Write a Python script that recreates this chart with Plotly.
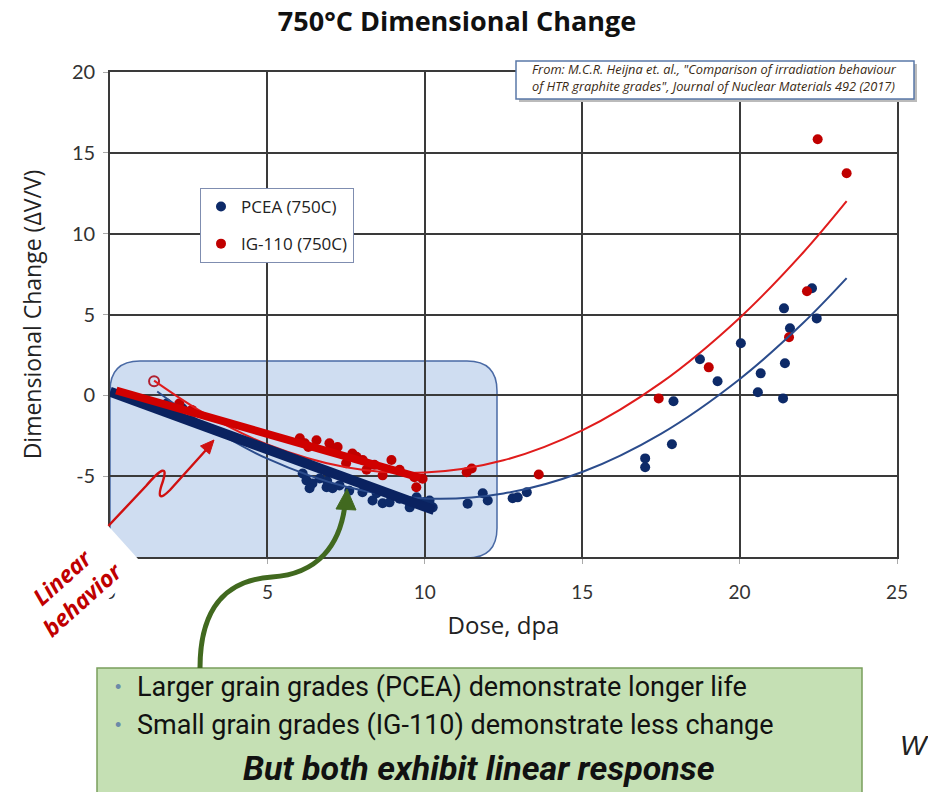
import plotly.graph_objects as go

# ---------------- data ----------------
pcea_dose = [1.8, 2.3, 6.12, 6.24, 6.43, 6.66, 6.34, 6.88, 7.07, 7.29, 6.9, 7.6, 8.02, 8.34,
             8.47, 8.66, 8.88, 9.2, 9.52, 9.74, 10.15, 10.25, 10.0, 11.36, 11.84, 12.0, 12.79,
             12.95, 13.24, 17.0, 17.0, 17.85, 17.9, 18.74, 19.3, 20.04, 20.67, 20.58, 21.38,
             21.44, 21.41, 21.6, 22.45, 22.3]
pcea_dv = [-0.5, -0.8, -4.83, -5.26, -5.45, -5.14, -5.75, -5.69, -5.75, -5.57, -5.3, -5.9, -6.0,
           -6.5, -6.06, -6.68, -6.62, -6.4, -6.93, -6.31, -6.5, -6.93, -6.6, -6.7, -6.06, -6.5,
           -6.37, -6.31, -6.0, -3.9, -4.45, -3.03, -0.37, 2.23, 0.87, 3.22, 1.36, 0.19, -0.19,
           1.98, 5.38, 4.15, 4.76, 6.62]

ig_dose = [2.2, 2.6, 6.03, 6.19, 6.3, 6.56, 6.97, 7.0, 7.23, 7.5, 7.7, 7.83, 8.03, 8.15, 8.4,
           8.66, 8.94, 9.2, 9.67, 9.73, 9.93, 11.33, 11.49, 13.62, 17.43, 19.02, 21.57, 22.14,
           22.48, 23.4]
ig_dv = [-0.5, -0.9, -2.66, -2.97, -3.2, -2.78, -2.97, -3.4, -3.2, -4.2, -3.6, -3.8, -4.0, -4.6,
         -4.3, -4.95, -4.0, -4.6, -5.07, -5.69, -5.16, -4.76, -4.53, -4.9, -0.19, 1.73, 3.59,
         6.44, 15.84, 13.74]

ig_open_dose = [1.4]
ig_open_dv = [0.87]

# trend curves
pcea_fit_dose = [1.5, 3, 5, 7.5, 10, 12.5, 15, 17.5, 20, 22, 23.4]
pcea_fit_dv = [0.24, -1.79, -3.92, -5.66, -6.38, -6.07, -4.74, -2.38, 1.0, 4.44, 7.25]
ig_fit_dose = [1.4, 3, 5, 7.5, 10, 12.5, 15, 17.5, 20, 22, 23.4]
ig_fit_dv = [0.91, -1.12, -3.04, -4.45, -4.78, -4.02, -2.17, 0.77, 4.79, 8.79, 12.01]

# linear-behaviour lines
pcea_lin_dose = [0.0, 10.3]
pcea_lin_dv = [0.22, -7.1]
ig_lin_dose = [0.2, 9.85]
ig_lin_dv = [0.3, -5.1]

x_ticks = [0, 5, 10, 15, 20, 25]
x_ticktext = ["0", "5", "10", "15", "20", "25"]
y_ticks = [-5, 0, 5, 10, 15, 20]
y_ticktext = ["-5", "0", "5", "10", "15", "20"]

BLUE = "#0d2a68"
RED = "#c00000"
FONT = "Lato"
FONT2 = "Open Sans"

# ---------------- figure ----------------
W, H = 928, 792
ML, MR, MT, MB = 110, 31, 72, 235
PW, PH = W - ML - MR, H - MT - MB


def pp(px, py):
    """pixel -> paper coords"""
    return (px - ML) / PW, (H - MB - py) / PH


def path(cmds):
    out = []
    for c in cmds:
        if isinstance(c, str):
            out.append(c)
        else:
            x, y = pp(*c)
            out.append(f"{x:.5f},{y:.5f}")
    return " ".join(out)


fig = go.Figure()

fig.add_trace(go.Scatter(x=pcea_dose, y=pcea_dv, mode="markers", name="PCEA (750C)",
                         marker=dict(color=BLUE, size=10), legendgroup="a"))
fig.add_trace(go.Scatter(x=ig_dose, y=ig_dv, mode="markers", name="IG-110 (750C)",
                         marker=dict(color=RED, size=10), legendgroup="b"))
fig.add_trace(go.Scatter(x=ig_open_dose, y=ig_open_dv, mode="markers", showlegend=False,
                         marker=dict(symbol="circle-open", color="#b02030", size=10,
                                     line=dict(width=2))))
fig.add_trace(go.Scatter(x=pcea_fit_dose, y=pcea_fit_dv, mode="lines", showlegend=False,
                         line=dict(color="#2b4c8c", width=2, shape="spline")))
fig.add_trace(go.Scatter(x=ig_fit_dose, y=ig_fit_dv, mode="lines", showlegend=False,
                         line=dict(color="#e01c1c", width=2, shape="spline")))
fig.add_trace(go.Scatter(x=pcea_lin_dose, y=pcea_lin_dv, mode="lines", showlegend=False,
                         line=dict(color="#0a2260", width=10)))
fig.add_trace(go.Scatter(x=ig_lin_dose, y=ig_lin_dv, mode="lines", showlegend=False,
                         line=dict(color="#d00000", width=8)))

shapes = []
# shaded rounded box (semi-transparent so the grid shows through)
Lb, Tb, Rb, Bb, r = 110, 361, 497, 558, 30
shapes.append(dict(
    type="path", xref="paper", yref="paper", layer="below",
    path=path(["M", (Lb + r, Tb), "L", (Rb - r, Tb), "Q", (Rb, Tb), (Rb, Tb + r),
               "L", (Rb, Bb - r), "Q", (Rb, Bb), (Rb - r, Bb), "L", (Lb + r, Bb),
               "Q", (Lb, Bb), (Lb, Bb - r), "L", (Lb, Tb + r), "Q", (Lb, Tb), (Lb + r, Tb), "Z"]),
    fillcolor="rgba(140,175,222,0.42)", line=dict(color="#4a6aa5", width=1.5)))

# citation box (shadow + box)
x0, y0 = pp(519, 64); x1, y1 = pp(917, 102)
shapes.append(dict(type="rect", xref="paper", yref="paper", x0=x0, y0=y0, x1=x1, y1=y1,
                   fillcolor="#bbbbbb", line=dict(width=0), layer="above"))
x0, y0 = pp(516, 61); x1, y1 = pp(914, 99)
shapes.append(dict(type="rect", xref="paper", yref="paper", x0=x0, y0=y0, x1=x1, y1=y1,
                   fillcolor="white", line=dict(color="#5a78a8", width=1.5), layer="above"))

# green text box
x0, y0 = pp(97, 668); x1, y1 = pp(862, 810)
shapes.append(dict(type="rect", xref="paper", yref="paper", x0=x0, y0=y0, x1=x1, y1=y1,
                   fillcolor="#c5e0b4", line=dict(color="#7a9f5c", width=1.5), layer="above"))

# green curved arrow
shapes.append(dict(type="path", xref="paper", yref="paper", layer="above",
                   path=path(["M", (200, 668), "C", (200, 605), (228, 580), (272, 577),
                              "C", (318, 574), (340, 545), (345, 505)]),
                   line=dict(color="#41691f", width=5)))
shapes.append(dict(type="path", xref="paper", yref="paper", layer="above",
                   path=path(["M", (347, 489), "L", (356, 510), "L", (336, 509), "Z"]),
                   fillcolor="#41691f", line=dict(color="#41691f", width=1)))

# red squiggle arrow
shapes.append(dict(type="path", xref="paper", yref="paper", layer="above",
                   path=path(["M", (97, 538), "L", (146, 486), "Q", (170, 458), (163, 481),
                              "Q", (154, 506), (170, 490), "L", (206, 450)]),
                   line=dict(color="#d01010", width=2.4)))
shapes.append(dict(type="path", xref="paper", yref="paper", layer="above",
                   path=path(["M", (214, 440), "L", (209.5, 454), "L", (200.5, 446), "Z"]),
                   fillcolor="#d01010", line=dict(color="#d01010", width=1)))


def ann(px, py, text, font, xanchor="center", **kw):
    x, y = pp(px, py)
    d = dict(xref="paper", yref="paper", x=x, y=y, xanchor=xanchor, yanchor="middle",
             showarrow=False, text=text, font=font)
    d.update(kw)
    return d


NARROW = "Liberation Sans Narrow, Roboto"
annotations = [
    ann(530, 69, "<i>From: M.C.R. Heijna et. al., \"Comparison of irradiation behaviour</i>",
        dict(family=FONT2, size=12.8, color="#3a2a14"), xanchor="left", align="left"),
    ann(530, 86, "<i>of HTR graphite grades\", Journal of Nuclear Materials 492 (2017)</i>",
        dict(family=FONT2, size=12.8, color="#3a2a14"), xanchor="left", align="left"),
    ann(72, 588, "<b><i>Linear<br>behavior</i></b>",
        dict(family=FONT2, size=23, color="#c00000"), textangle=-42, bgcolor="white",
        width=134),
    ann(118, 687, "•", dict(family="Liberation Sans", size=18, color="#6a8aa8")),
    ann(118, 725, "•", dict(family="Liberation Sans", size=18, color="#6a8aa8")),
    ann(135, 687, "Larger grain grades (PCEA) demonstrate longer life",
        dict(family=NARROW, size=27, color="#111111"), xanchor="left"),
    ann(135, 725, "Small grain grades (IG-110) demonstrate less change",
        dict(family=NARROW, size=27, color="#111111"), xanchor="left"),
    ann(479, 768, "<b><i>But both exhibit linear response</i></b>",
        dict(family=NARROW, size=34, color="#111111")),
    ann(898, 745, "<i>W</i>", dict(family="Liberation Sans", size=28, color="#222222"),
        xanchor="left"),
]

fig.update_layout(
    width=W, height=H, margin=dict(l=ML, r=MR, t=MT, b=MB),
    paper_bgcolor="white", plot_bgcolor="white",
    title=dict(text="<b>750°C Dimensional Change</b>", x=0.4925, xanchor="center",
               y=1 - 22 / H, yanchor="middle",
               font=dict(family=FONT2, size=27, color="#111111")),
    font=dict(family=FONT, color="#333333"),
    shapes=shapes, annotations=annotations,
    legend=dict(x=pp(200, 188)[0], y=pp(200, 188)[1], xanchor="left", yanchor="top",
                bgcolor="white", bordercolor="#7f8db0", borderwidth=1,
                font=dict(family=FONT2, size=17, color="#222222"),
                tracegroupgap=12, traceorder="grouped"),
    xaxis=dict(range=[0, 25], tickvals=x_ticks, ticktext=x_ticktext, showgrid=True,
               gridcolor="#3a3a3a", gridwidth=1.6, zeroline=False, showline=True,
               linecolor="#3a3a3a", linewidth=1.6, mirror=True, ticks="outside", ticklen=5,
               tickcolor="#aaaaaa", ticklabelstandoff=12,
               tickfont=dict(family=FONT, size=19, color="#333333"),
               title=dict(text="Dose, dpa", standoff=16,
                          font=dict(family=FONT2, size=24, color="#222222"))),
    yaxis=dict(range=[-10, 20], tickvals=y_ticks, ticktext=y_ticktext, showgrid=True,
               gridcolor="#3a3a3a", gridwidth=1.6, zeroline=False, showline=True,
               linecolor="#3a3a3a", linewidth=1.6, mirror=True, ticks="outside", ticklen=5,
               tickcolor="#aaaaaa", ticklabelstandoff=4,
               tickfont=dict(family=FONT, size=20, color="#333333"),
               title=dict(text="Dimensional Change (ΔV/V)", standoff=24,
                          font=dict(family=FONT2, size=23, color="#222222"))),
)

fig.write_html("out.html")
